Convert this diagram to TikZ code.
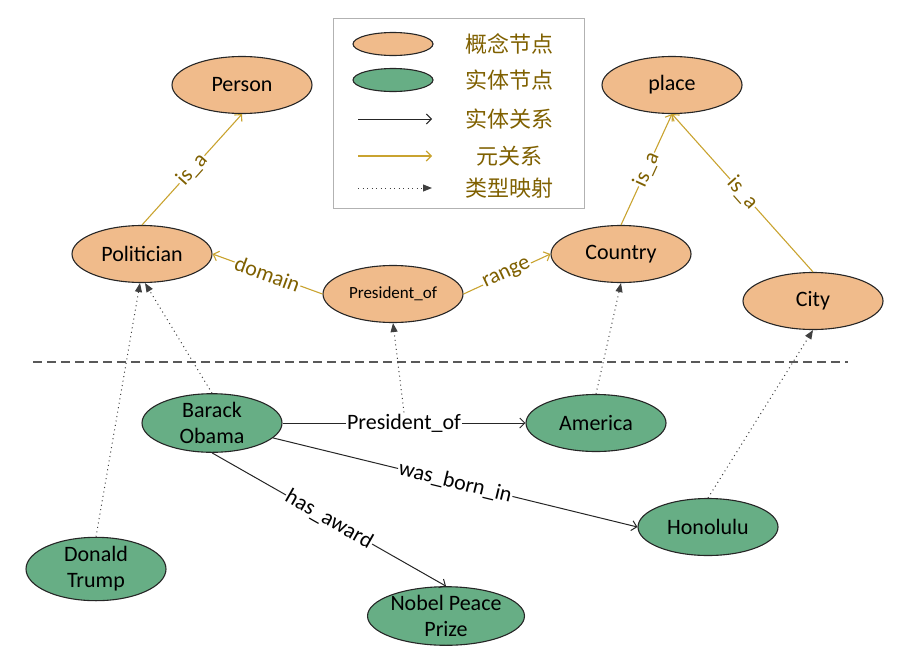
\documentclass[tikz,border=0pt]{standalone}
\usepackage{fontspec}
\setmainfont{Carlito}
\newfontfamily\cjk{Noto Sans CJK SC}
\usepackage{tikz}
\usetikzlibrary{arrows.meta,shapes.geometric}
\usepackage{xcolor}
\definecolor{conceptfill}{HTML}{F0BB8B}
\definecolor{entityfill}{HTML}{67AE85}
\definecolor{metaline}{HTML}{C9A330}
\definecolor{metatext}{HTML}{7F6000}

\begin{document}
\begin{tikzpicture}[x=1pt,y=-1pt,
      concept/.style={draw=black!85,ellipse,line width=1.1pt,fill=conceptfill,
                      minimum width=140pt,minimum height=57pt,inner sep=0pt,
                      align=center,font=\fontsize{22}{26}\selectfont},
      entity/.style={concept,fill=entityfill},
      metarel/.style={draw=metaline,line width=1.1pt,
                      -{Straight Barb[length=5pt,width=10pt]}},
      entrel/.style={draw=black!85,line width=1pt,
                     -{Straight Barb[length=5pt,width=10pt]}},
      typemap/.style={draw=black!75,line width=1pt,dash pattern=on 1pt off 3.5pt,
                      -{Triangle[length=9pt,width=7pt]}},
      metalbl/.style={fill=white,inner sep=1pt,sloped,text=metatext,
                      font=\fontsize{22}{26}\selectfont},
      entlbl/.style={fill=white,inner sep=1pt,sloped,
                     font=\fontsize{22}{26}\selectfont},
      keytext/.style={text=metatext,font=\cjk\fontsize{22}{26}\selectfont},
      sepline/.style={draw=black!65,line width=1.5pt,dash pattern=on 9pt off 5pt},
    ]
    \useasboundingbox (0,0) rectangle (909,664);

    % concept layer
    \node[concept] (person)  at (242,85)  {Person};
    \node[concept] (place)   at (672,85)  {place};
    \node[concept] (pol)     at (142,254) {Politician};
    \node[concept,font=\fontsize{17}{20}\selectfont] (pres) at (393,294) {President\_of};
    \node[concept] (country) at (621,254) {Country};
    \node[concept] (city)    at (813,301) {City};

    % entity layer
    \node[entity] (obama)    at (212,423) {Barack\\Obama};
    \node[entity] (america)  at (596,423) {America};
    \node[entity] (honolulu) at (708,527) {Honolulu};
    \node[entity] (trump)    at (96,569)  {Donald\\Trump};
    \node[entity] (nobel)    at (446,616) {Nobel Peace\\Prize};

    % separator
    \coordinate (sepl) at (33,362);
    \coordinate (sepr) at (848,362);
    \draw[sepline] (sepl) -- (sepr);

    % meta relations
    \draw[metarel] (pol.north) -- (person.south)
      node[midway,metalbl] {is\_a};
    \draw[metarel] (pres.west) -- (pol.east)
      node[midway,metalbl] {domain};
    \draw[metarel] (pres.east) -- (country.west)
      node[midway,metalbl] {range};
    \draw[metarel] (country.north) -- (place.south)
      node[midway,metalbl] {is\_a};
    \draw[metarel] (city.north) -- (place.south)
      node[midway,metalbl] {is\_a};

    % entity relations
    \draw[entrel] (obama) -- (america)
      node[midway,entlbl] (presof) {President\_of};
    \draw[entrel] (obama) -- (honolulu.west)
      node[midway,entlbl] {was\_born\_in};
    \draw[entrel] (obama.south) -- (nobel.north)
      node[midway,entlbl] {has\_award};

    % type mappings
    \draw[typemap] (trump.north) -- ([xshift=-2pt]pol.south);
    \draw[typemap] (obama.north) -- ([xshift=3pt]pol.south);
    \draw[typemap] (presof.north) -- (pres.south);
    \draw[typemap] (america.north) -- (country.south);
    \draw[typemap] (honolulu.north) -- (city.south);

    % legend
    \node[draw=black!30,line width=0.8pt,minimum width=251pt,
          minimum height=190pt,inner sep=0pt] (legend) at (458.5,113) {};
    \node[concept,minimum width=80pt,minimum height=23pt] (keyconcept) at (393,44) {};
    \node[entity,minimum width=80pt,minimum height=23pt]  (keyentity)  at (393,80) {};
    \coordinate (keyrela) at (358,119);
    \coordinate (keyrelb) at (432,119);
    \coordinate (keymetaa) at (358,156);
    \coordinate (keymetab) at (432,156);
    \coordinate (keymapa) at (358,188);
    \coordinate (keymapb) at (432,188);
    \draw[entrel] (keyrela) -- (keyrelb);
    \draw[metarel] (keymetaa) -- (keymetab);
    \draw[typemap] (keymapa) -- (keymapb);
    \node[keytext] (tconcept) at (509,44)  {概念节点};
    \node[keytext] (tentity)  at (509,80)  {实体节点};
    \node[keytext] (trel)     at (509,119) {实体关系};
    \node[keytext] (tmeta)    at (509,156) {元关系};
    \node[keytext] (tmap)     at (509,188) {类型映射};

  \end{tikzpicture}
\end{document}
